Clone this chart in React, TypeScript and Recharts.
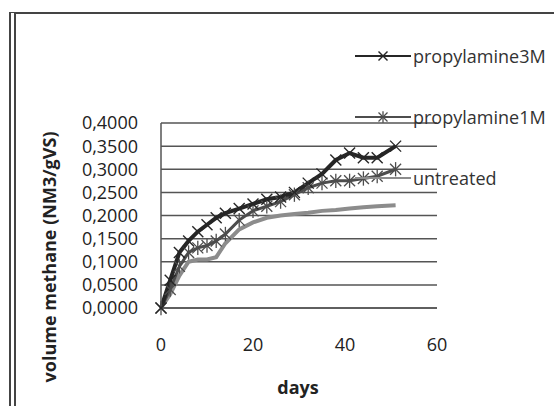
import { LineChart, Line, XAxis, YAxis, CartesianGrid } from 'recharts';

const days = [0, 2, 4, 6, 8, 10, 12, 14, 17, 20, 23, 26, 29, 32, 35, 38, 41, 44, 47, 51];
const propylamine3M = [0, 0.06, 0.12, 0.145, 0.165, 0.18, 0.195, 0.205, 0.215, 0.225, 0.235, 0.24, 0.25, 0.27, 0.29, 0.32, 0.335, 0.325, 0.325, 0.35];
const propylamine1M = [0, 0.04, 0.09, 0.12, 0.13, 0.135, 0.145, 0.16, 0.19, 0.21, 0.22, 0.23, 0.245, 0.26, 0.27, 0.275, 0.275, 0.28, 0.285, 0.3];
const untreated = [0, 0.03, 0.07, 0.1, 0.105, 0.105, 0.11, 0.14, 0.17, 0.185, 0.195, 0.2, 0.203, 0.206, 0.21, 0.212, 0.215, 0.218, 0.22, 0.222];

const xTicks = [0, 20, 40, 60];
const yTicks = [0, 0.05, 0.1, 0.15, 0.2, 0.25, 0.3, 0.35, 0.4];

const data = days.map((d, i) => ({
  day: d,
  p3: propylamine3M[i],
  p1: propylamine1M[i],
  un: untreated[i],
}));

const FONT = '"Open Sans", sans-serif';

function XMark({ cx, cy, color, r = 5.5 }: any) {
  if (cx == null || cy == null) return null;
  return (
    <g>
      <line x1={cx - r} y1={cy - r} x2={cx + r} y2={cy + r} stroke={color} strokeWidth={1.4} />
      <line x1={cx - r} y1={cy + r} x2={cx + r} y2={cy - r} stroke={color} strokeWidth={1.4} />
    </g>
  );
}

function StarMark({ cx, cy, color, r = 5.5 }: any) {
  if (cx == null || cy == null) return null;
  return (
    <g>
      <line x1={cx - r} y1={cy - r} x2={cx + r} y2={cy + r} stroke={color} strokeWidth={1.3} />
      <line x1={cx - r} y1={cy + r} x2={cx + r} y2={cy - r} stroke={color} strokeWidth={1.3} />
      <line x1={cx} y1={cy - r * 1.3} x2={cx} y2={cy + r * 1.3} stroke={color} strokeWidth={1.3} />
    </g>
  );
}

const series = [
  { key: 'p3', name: 'propylamine3M', color: '#262626', mark: 'x' },
  { key: 'p1', name: 'propylamine1M', color: '#4d4d4d', mark: 'star' },
  { key: 'un', name: 'untreated', color: '#8c8c8c', mark: 'none' },
];

function LegendBox() {
  return (
    <div style={{ fontFamily: FONT, fontSize: 18, color: '#333' }}>
      {series.map((s) => (
        <div key={s.key} style={{ height: 61, display: 'flex', alignItems: 'center' }}>
          <svg width={56} height={20} style={{ marginRight: 2 }}>
            <line x1={0} y1={10} x2={56} y2={10} stroke={s.color} strokeWidth={2} />
            {s.mark === 'x' && <XMark cx={28} cy={10} color={s.color} r={4.5} />}
            {s.mark === 'star' && <StarMark cx={28} cy={10} color={s.color} r={4.5} />}
          </svg>
          <span>{s.name}</span>
        </div>
      ))}
    </div>
  );
}

export default function App() {
  return (
    <div style={{ position: 'absolute', left: 0, top: 0, width: 554, height: 406, background: '#fff' }}>
      <div
        style={{
          position: 'absolute',
          left: 9,
          top: 12,
          right: 0,
          bottom: 0,
          borderTop: '2px solid #444',
          borderLeft: '7px double #444',
        }}
      />
      <div style={{ position: 'absolute', left: 0, top: 0 }}>
        <LineChart width={554} height={406} data={data} margin={{ top: 123, right: 117, left: 0, bottom: 0 }}>
          <CartesianGrid horizontal vertical={false} stroke="#555" strokeWidth={1.5} />
          <XAxis
            dataKey="day"
            type="number"
            domain={[0, 60]}
            ticks={xTicks}
            interval={0}
            height={98}
            axisLine={{ stroke: '#555', strokeWidth: 1.5 }}
            tickLine={false}
            tickSize={0}
            tickMargin={30}
            tick={{ fill: '#222', fontSize: 18, fontFamily: FONT }}
            label={{
              content: () => (
                <text x={298} y={394} textAnchor="middle" fontFamily={FONT} fontSize={18} fontWeight="bold" fill="#222">
                  days
                </text>
              ),
            }}
          />
          <YAxis
            type="number"
            domain={[0, 0.4]}
            ticks={yTicks}
            interval={0}
            width={161}
            axisLine={{ stroke: '#555', strokeWidth: 1.5 }}
            tickLine={false}
            tickSize={0}
            tickMargin={23}
            tickFormatter={(v: number) => v.toFixed(4).replace('.', ',')}
            tick={{ fill: '#222', fontSize: 18, fontFamily: FONT }}
            label={{
              content: () => (
                <text
                  x={56}
                  y={257}
                  transform="rotate(-90 56 257)"
                  textAnchor="middle"
                  fontFamily={FONT}
                  fontSize={18}
                  fontWeight="bold"
                  fill="#222"
                >
                  volume methane (NM3/gVS)
                </text>
              ),
            }}
          />
          <Line
            dataKey="un"
            name="untreated"
            stroke="#8c8c8c"
            strokeWidth={4}
            dot={false}
            type="linear"
            isAnimationActive={false}
          />
          <Line
            dataKey="p1"
            name="propylamine1M"
            stroke="#4d4d4d"
            strokeWidth={3}
            type="linear"
            dot={(p: any) => <StarMark key={p.index} cx={p.cx} cy={p.cy} color="#4d4d4d" />}
            isAnimationActive={false}
          />
          <Line
            dataKey="p3"
            name="propylamine3M"
            stroke="#262626"
            strokeWidth={4}
            type="linear"
            dot={(p: any) => <XMark key={p.index} cx={p.cx} cy={p.cy} color="#262626" />}
            isAnimationActive={false}
          />
        </LineChart>
      </div>
      <div style={{ position: 'absolute', left: 355, top: 25 }}>
        <LegendBox />
      </div>
    </div>
  );
}
